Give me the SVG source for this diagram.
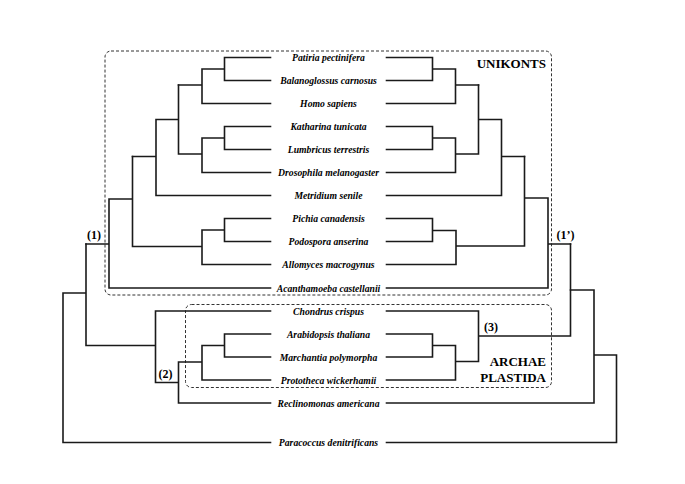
<svg xmlns="http://www.w3.org/2000/svg" width="685" height="484" viewBox="0 0 685 484">
<style>
.br{fill:none;stroke:#1a1a1a;stroke-width:1.6;stroke-linecap:square}
.box{fill:none;stroke:#333;stroke-width:1;stroke-dasharray:3 2}
.leaf{font-family:"Liberation Serif","Times New Roman",serif;font-style:italic;font-weight:bold;font-size:9.7px;fill:#000;text-anchor:middle}
.clade{font-family:"Liberation Serif","Times New Roman",serif;font-weight:bold;font-size:13px;fill:#000;text-anchor:end}
.num{font-family:"Liberation Serif","Times New Roman",serif;font-weight:bold;font-size:12px;fill:#000}
</style>
<rect width="685" height="484" fill="#fff"/>
<g id="groups">
<rect id="unikonts-box" class="box" x="105" y="51" width="446.5" height="244" rx="6"/>
<rect id="archaeplastida-box" class="box" x="185.5" y="304.5" width="366" height="83" rx="6"/>
<text id="unikonts-label" class="clade" x="546" y="67.5">UNIKONTS</text>
<text id="archaeplastida-label" class="clade" x="546" y="365.5"><tspan x="546">ARCHAE</tspan><tspan x="546" y="381.5">PLASTIDA</tspan></text>
</g>
<g id="connectors" class="br">
<path d="M270.5 57.5H224.5V80.5H270.5M224.5 69H202V103.5H270.5M202 85H178.5"/>
<path d="M270.5 126.5H224.5V149.5H270.5M224.5 138H202V172.5H270.5M202 154H178.5V85M178.5 119.5H156V195.5H270.5M156 156.5H132.5"/>
<path d="M270.5 218.5H224.5V241.5H270.5M224.5 230H202V264.5H270.5M202 246.5H132.5V156.5M132.5 199H109V288H270.5M109 244H86"/>
<path d="M270.5 334H224.5V357H270.5M224.5 345.5H202V380H270.5M202 362H178.5V403H270.5M178.5 382.5H155.5V311H270.5M155.5 345.5H86V244M86 293H63V442.5H270.5"/>
<path d="M386.5 57.5H432.5V80.5H386.5M432.5 69H455.5M386.5 103.5H455.5V69M455.5 85H478.5"/>
<path d="M386.5 126.5H432.5V149.5H386.5M432.5 138H455.5M386.5 172.5H455.5V138M455.5 154H478.5V85M478.5 119.5H501.5M386.5 195.5H501.5V119.5M501.5 156.5H524.5"/>
<path d="M386.5 218.5H432.5V241.5H386.5M432.5 230.5H456M386.5 264.5H456V230.5M456 246H524.5V156.5M524.5 198H548M386.5 288H548V198M548 244H570.5"/>
<path d="M386.5 334H432.5V357H386.5M432.5 345.5H455.5M386.5 380H455.5V345.5M455.5 361.5H478.5M386.5 311H478.5V361.5M478.5 336H570.5V244"/>
<path d="M570.5 290H594M386.5 403H594V290M594 355H616.5M386.5 442.5H616.5V355"/>
</g>
<g id="node-labels">
<text id="n1" class="num" x="87" y="238.5">(1)</text>
<text id="n1p" class="num" x="556.5" y="238.5">(1’)</text>
<text id="n2" class="num" x="158.5" y="377.5">(2)</text>
<text id="n3" class="num" x="484" y="331">(3)</text>
</g>
<g id="patiria"><text class="leaf" x="328.5" y="61">Patiria pectinifera</text></g>
<g id="balanoglossus"><text class="leaf" x="328.5" y="84">Balanoglossus carnosus</text></g>
<g id="homo"><text class="leaf" x="328.5" y="107">Homo sapiens</text></g>
<g id="katharina"><text class="leaf" x="328.5" y="130">Katharina tunicata</text></g>
<g id="lumbricus"><text class="leaf" x="328.5" y="153">Lumbricus terrestris</text></g>
<g id="drosophila"><text class="leaf" x="328.5" y="176">Drosophila melanogaster</text></g>
<g id="metridium"><text class="leaf" x="328.5" y="199">Metridium senile</text></g>
<g id="pichia"><text class="leaf" x="328.5" y="222">Pichia canadensis</text></g>
<g id="podospora"><text class="leaf" x="328.5" y="245">Podospora anserina</text></g>
<g id="allomyces"><text class="leaf" x="328.5" y="268">Allomyces macrogynus</text></g>
<g id="acanthamoeba"><text class="leaf" x="328.5" y="291.5">Acanthamoeba castellanii</text></g>
<g id="chondrus"><text class="leaf" x="328.5" y="314.5">Chondrus crispus</text></g>
<g id="arabidopsis"><text class="leaf" x="328.5" y="337.5">Arabidopsis thaliana</text></g>
<g id="marchantia"><text class="leaf" x="328.5" y="360.5">Marchantia polymorpha</text></g>
<g id="prototheca"><text class="leaf" x="328.5" y="383.5">Prototheca wickerhamii</text></g>
<g id="reclinomonas"><text class="leaf" x="328.5" y="406.5">Reclinomonas americana</text></g>
<g id="paracoccus"><text class="leaf" x="328.5" y="446">Paracoccus denitrificans</text></g>
</svg>
